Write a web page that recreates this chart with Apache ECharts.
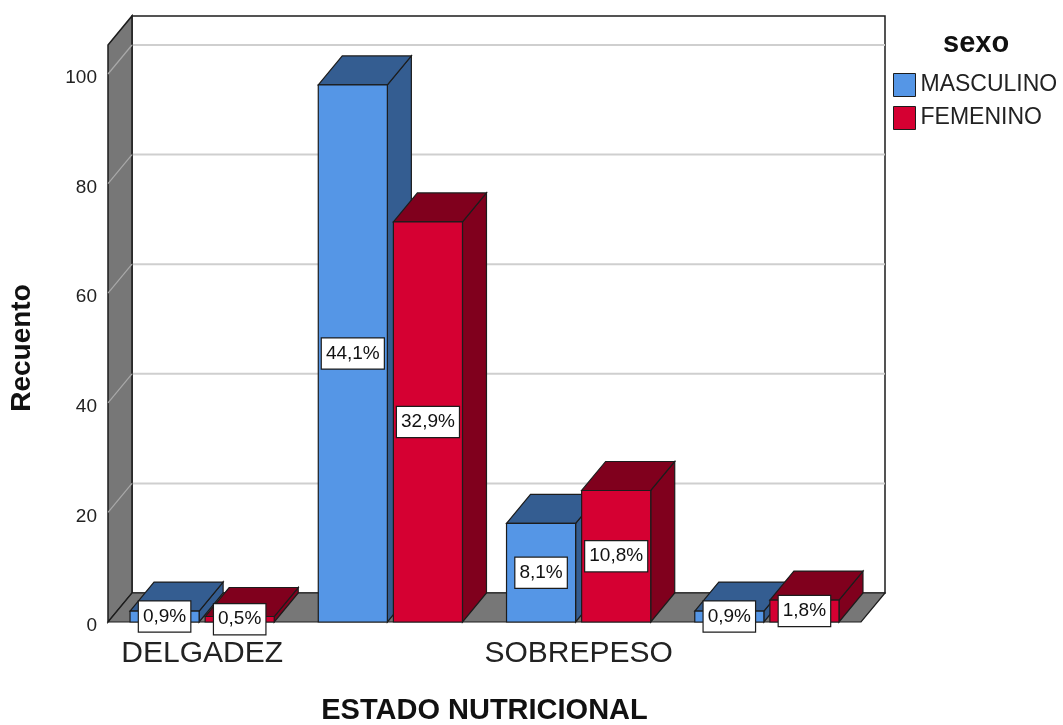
<!DOCTYPE html>
<html>
<head>
<meta charset="utf-8">
<script src="https://cdn.jsdelivr.net/npm/echarts@6/dist/echarts.min.js"></script>
<style>
  html, body { margin: 0; padding: 0; background: #ffffff; }
  #chart { width: 1063px; height: 725px; }
</style>
</head>
<body>
<div id="chart"></div>
<script>
// Recuento por estado nutricional y sexo
const categories = ['DELGADEZ', 'NORMAL', 'SOBREPESO', 'OBESIDAD'];
const masculino = [2, 98, 18, 2];
const femenino = [1, 73, 24, 4];
const yTicks = [0, 20, 40, 60, 80, 100];
const wallTop = 105.3;   // height of the back and side walls, in axis units

const FONT = '"Liberation Sans", Arial, sans-serif';
const DX = 24, DY = -29;            // oblique depth of the 3D box
const EDGE = '#1c1c1c';
const WALL = '#777777';
const COLORS = {
  MASCULINO: { front: '#5596e6', shade: '#345d91' },
  FEMENINO:  { front: '#d50032', shade: '#80001d' }
};

const total = masculino.concat(femenino).reduce((a, b) => a + b, 0);
const pct = v => (v / total * 100).toFixed(1).replace('.', ',') + '%';

function barGeom(api, cat, v, side) {
  const top = api.coord([cat, v]);
  const base = api.coord([cat, 0]);
  const band = api.size([1, 0])[0];
  const w = band * 0.367;
  const gap = band * 0.032;
  const x0 = side === 0 ? top[0] - gap / 2 - w : top[0] + gap / 2;
  return { x0, w, yTop: top[1], yBase: base[1] };
}

function barRenderer(side, name) {
  const c = COLORS[name];
  return function (params, api) {
    const g = barGeom(api, api.value(0), api.value(1), side);
    const { x0, w, yTop, yBase } = g;
    const stroke = { stroke: EDGE, lineWidth: 1.2 };
    return {
      type: 'group',
      children: [
        { type: 'polygon', shape: { points: [[x0 + w, yTop], [x0 + w + DX, yTop + DY], [x0 + w + DX, yBase + DY], [x0 + w, yBase]] },
          style: Object.assign({ fill: c.shade }, stroke) },
        { type: 'polygon', shape: { points: [[x0, yTop], [x0 + DX, yTop + DY], [x0 + w + DX, yTop + DY], [x0 + w, yTop]] },
          style: Object.assign({ fill: c.shade }, stroke) },
        { type: 'rect', shape: { x: x0, y: yTop, width: w, height: yBase - yTop },
          style: Object.assign({ fill: c.front }, stroke) }
      ]
    };
  };
}

function labelRenderer(side) {
  return function (params, api) {
    const g = barGeom(api, api.value(0), api.value(1), side);
    return {
      type: 'text',
      style: {
        text: pct(api.value(1)),
        x: g.x0 + g.w / 2,
        y: (g.yTop + g.yBase) / 2,
        align: 'center',
        verticalAlign: 'middle',
        font: '19px ' + FONT,
        fill: '#111111',
        backgroundColor: '#ffffff',
        borderColor: EDGE,
        borderWidth: 1.2,
        padding: [6, 4, 5, 4]
      }
    };
  };
}

function wallRenderer(params, api) {
  const n = categories.length;
  const band = api.size([1, 0])[0];
  const L = api.coord([0, 0])[0] - band / 2;
  const R = api.coord([n - 1, 0])[0] + band / 2;
  const y0 = api.coord([0, 0])[1];
  const yT = api.coord([0, wallTop])[1];
  const children = [];
  children.push({ type: 'rect', shape: { x: L + DX, y: yT + DY, width: R - L, height: y0 - yT },
    style: { fill: '#ffffff', stroke: EDGE, lineWidth: 1.5 } });
  yTicks.forEach(t => {
    if (t === 0) return;
    const y = api.coord([0, t])[1];
    children.push({ type: 'line', shape: { x1: L + DX, y1: y + DY, x2: R + DX, y2: y + DY },
      style: { stroke: '#cfcfcf', lineWidth: 2 } });
  });
  children.push({ type: 'polygon', shape: { points: [[L, yT], [L + DX, yT + DY], [L + DX, y0 + DY], [L, y0]] },
    style: { fill: WALL, stroke: EDGE, lineWidth: 1.5 } });
  yTicks.forEach(t => {
    if (t === 0) return;
    const y = api.coord([0, t])[1];
    children.push({ type: 'line', shape: { x1: L, y1: y, x2: L + DX, y2: y + DY },
      style: { stroke: '#a9a9a9', lineWidth: 1.2 } });
  });
  children.push({ type: 'polygon', shape: { points: [[L, y0], [L + DX, y0 + DY], [R + DX, y0 + DY], [R, y0]] },
    style: { fill: WALL, stroke: EDGE, lineWidth: 1.2 } });
  return { type: 'group', children };
}

const chart = echarts.init(document.getElementById('chart'), null, { renderer: 'canvas' });

chart.setOption({
  animation: false,
  backgroundColor: '#ffffff',
  textStyle: { fontFamily: FONT },
  title: {
    text: 'sexo', left: 943, top: 29, padding: 0,
    textStyle: { fontFamily: FONT, fontSize: 29, fontWeight: 'bold', color: '#111111' }
  },
  legend: {
    orient: 'vertical', left: 893, top: 73, padding: 0,
    itemWidth: 22, itemHeight: 23, itemGap: 9,
    icon: 'rect',
    textStyle: { fontFamily: FONT, fontSize: 23, color: '#222222', padding: [2, 0, 0, 0] },
    data: [
      { name: 'MASCULINO', itemStyle: { color: COLORS.MASCULINO.front, borderColor: EDGE, borderWidth: 1 } },
      { name: 'FEMENINO', itemStyle: { color: COLORS.FEMENINO.front, borderColor: EDGE, borderWidth: 1 } }
    ]
  },
  grid: { left: 108, right: 202, top: 74, bottom: 103, containLabel: false, outerBoundsMode: 'none' },
  xAxis: {
    type: 'category',
    data: categories,
    name: 'ESTADO NUTRICIONAL',
    nameLocation: 'middle',
    nameGap: 74,
    nameTextStyle: { fontFamily: FONT, fontSize: 29, fontWeight: 'bold', color: '#111111' },
    axisLine: { show: false },
    axisTick: { show: false },
    axisLabel: { interval: 1, fontFamily: FONT, fontSize: 30, color: '#222222', margin: 17 }
  },
  yAxis: {
    type: 'value',
    min: 0, max: 100, interval: 20,
    name: 'Recuento',
    nameLocation: 'middle',
    nameRotate: 90,
    nameGap: 72,
    nameTextStyle: { fontFamily: FONT, fontSize: 28, fontWeight: 'bold', color: '#111111' },
    axisLine: { show: false },
    axisTick: { show: false },
    splitLine: { show: false },
    axisLabel: { fontFamily: FONT, fontSize: 19, color: '#222222', margin: 11, verticalAlign: 'top', lineHeight: 8 }
  },
  series: [
    {
      type: 'custom', name: 'walls', z: 1, silent: true,
      renderItem: wallRenderer,
      data: [[0, 0]]
    },
    {
      type: 'custom', name: 'MASCULINO', z: 2,
      itemStyle: { color: COLORS.MASCULINO.front },
      renderItem: barRenderer(0, 'MASCULINO'),
      encode: { x: 0, y: 1 },
      data: masculino.map((v, i) => [i, v])
    },
    {
      type: 'custom', name: 'FEMENINO', z: 2,
      itemStyle: { color: COLORS.FEMENINO.front },
      renderItem: barRenderer(1, 'FEMENINO'),
      encode: { x: 0, y: 1 },
      data: femenino.map((v, i) => [i, v])
    },
    {
      type: 'custom', name: 'labels-m', z: 3, silent: true,
      renderItem: labelRenderer(0),
      encode: { x: 0, y: 1 },
      data: masculino.map((v, i) => [i, v])
    },
    {
      type: 'custom', name: 'labels-f', z: 3, silent: true,
      renderItem: labelRenderer(1),
      encode: { x: 0, y: 1 },
      data: femenino.map((v, i) => [i, v])
    }
  ]
});
</script>
</body>
</html>
